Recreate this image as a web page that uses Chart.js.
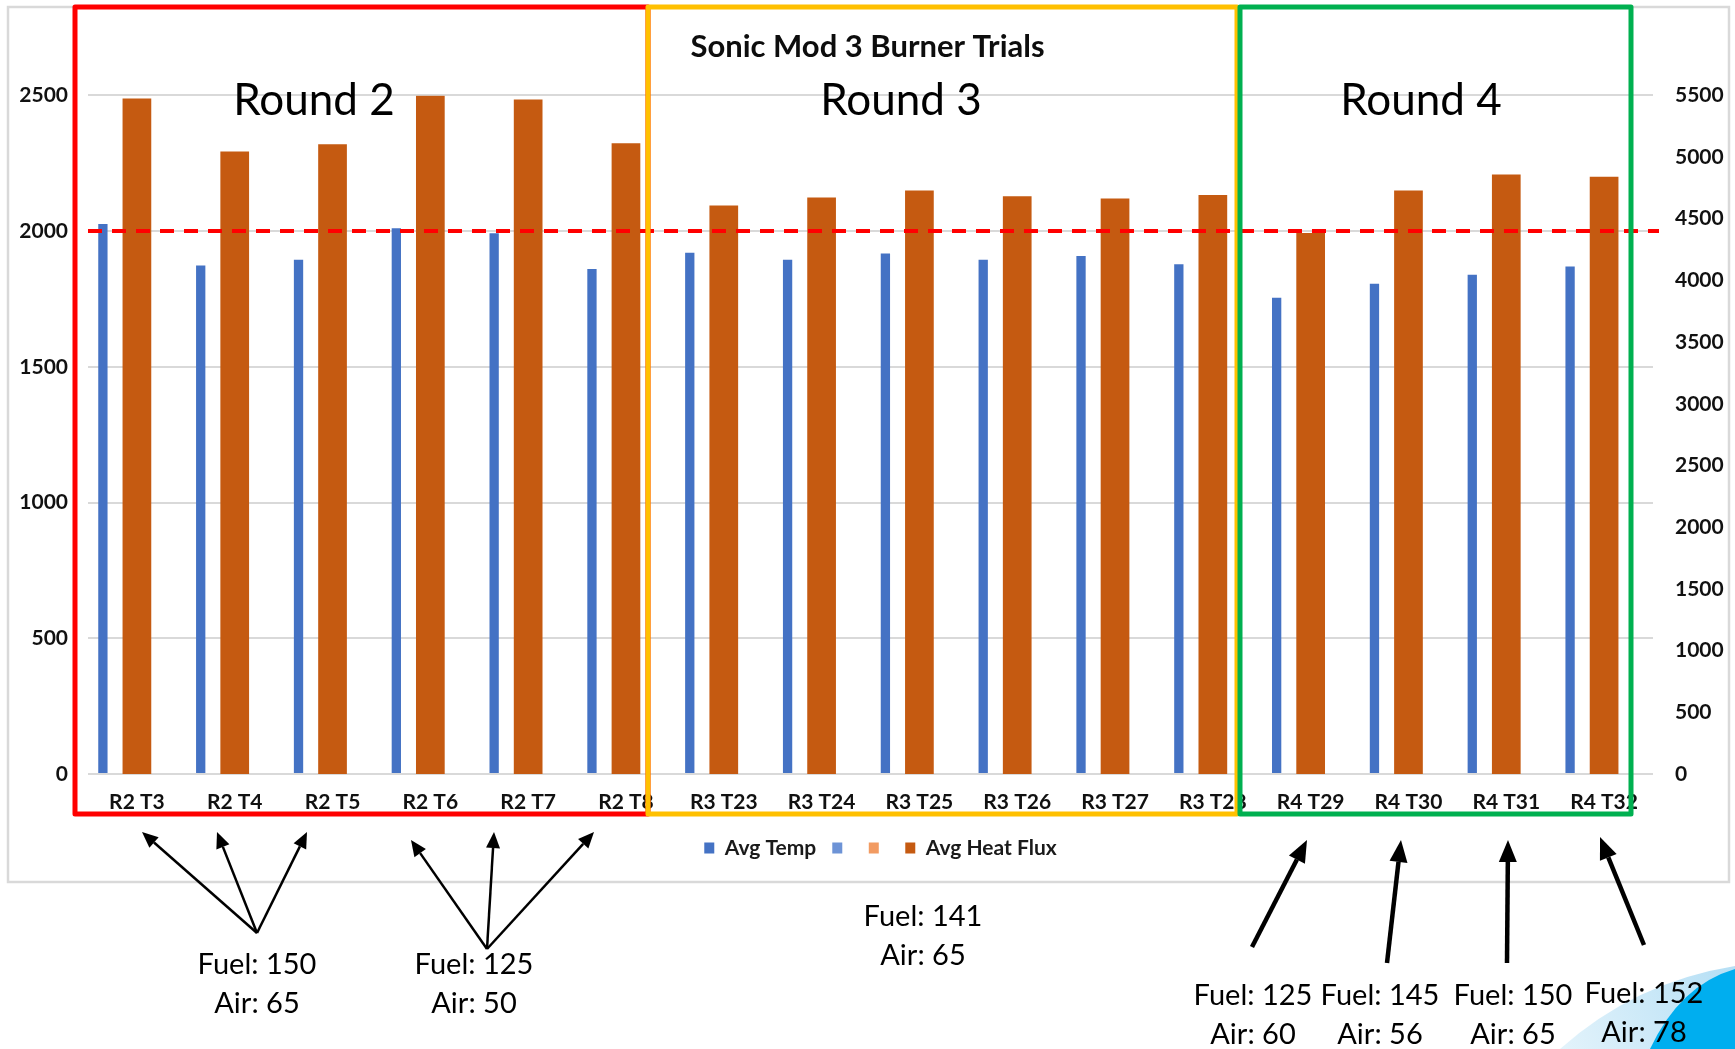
<!DOCTYPE html>
<html>
<head>
<meta charset="utf-8">
<title>Sonic Mod 3 Burner Trials</title>
<script src="https://cdn.jsdelivr.net/npm/chart.js@4.4.1/dist/chart.umd.min.js"></script>
<style>
  html, body { margin: 0; padding: 0; background: #ffffff; overflow: hidden; }
  #wrap { position: relative; width: 1735px; height: 1049px; }
  canvas { display: block; }
</style>
</head>
<body>
<div id="wrap"><canvas id="chart" width="1735" height="1049"></canvas></div>
<script>
// ---- data ----
const categories = ['R2 T3', 'R2 T4', 'R2 T5', 'R2 T6', 'R2 T7', 'R2 T8',
                    'R3 T23', 'R3 T24', 'R3 T25', 'R3 T26', 'R3 T27', 'R3 T28',
                    'R4 T29', 'R4 T30', 'R4 T31', 'R4 T32'];
const avgTemp     = [2026, 1873, 1894, 2010, 1992, 1860, 1920, 1894, 1917, 1894, 1908, 1878, 1754, 1806, 1839, 1869];
const avgHeatFlux = [5475, 5045, 5104, 5497, 5465, 5112, 4606, 4671, 4728, 4682, 4663, 4693, 4384, 4728, 4858, 4839];
const blankSeries = categories.map(() => null);

const tempAxis = { min: 0, max: 2500, step: 500 };
const fluxAxis = { min: 0, max: 5500, step: 500 };
const TARGET_TEMP = 2000;

const roundNames = ['Round 2', 'Round 3', 'Round 4'];
const settingNotes = [
  ['Fuel: 150', 'Air: 65'],
  ['Fuel: 125', 'Air: 50'],
  ['Fuel: 141', 'Air: 65'],
  ['Fuel: 125', 'Air: 60'],
  ['Fuel: 145', 'Air: 56'],
  ['Fuel: 150', 'Air: 65'],
  ['Fuel: 152', 'Air: 78']
];

// ---- layout of the hand-drawn callouts ----
const roundBoxes = [
  { x1: 75,   x2: 648,  color: '#FF0000', labelX: 314 },
  { x1: 648,  x2: 1237, color: '#FFC000', labelX: 901 },
  { x1: 1240, x2: 1631, color: '#00B050', labelX: 1421 }
];
const BOX_TOP = 7, BOX_BOTTOM = 814, ROUND_BASELINE = 115;
const LEGEND_SHIFT = 13;

const notePlaces = [
  { x: 257,  y: 974 },
  { x: 474,  y: 974 },
  { x: 923,  y: 926 },
  { x: 1253, y: 1005 },
  { x: 1380, y: 1005 },
  { x: 1513, y: 1005 },
  { x: 1644, y: 1003 }
];
const NOTE_LINE_GAP = 38.5;

const thinArrows = [
  [257, 933, 142, 832], [257, 933, 217, 832], [257, 933, 307, 832],
  [487, 949, 411, 840], [487, 949, 494, 832], [487, 949, 594, 832]
];
const boldArrows = [
  [1252, 947, 1307, 840], [1387, 963, 1401, 840],
  [1507, 963, 1508, 840], [1644, 945, 1600, 837]
];

function drawArrow(ctx, x0, y0, x1, y1, width, headLen, headHalf) {
  const ang = Math.atan2(y1 - y0, x1 - x0);
  const bx = x1 - Math.cos(ang) * headLen, by = y1 - Math.sin(ang) * headLen;
  ctx.lineWidth = width;
  ctx.beginPath();
  ctx.moveTo(x0, y0);
  ctx.lineTo(bx, by);
  ctx.stroke();
  ctx.beginPath();
  ctx.moveTo(x1, y1);
  ctx.lineTo(bx + Math.sin(ang) * headHalf, by - Math.cos(ang) * headHalf);
  ctx.lineTo(bx - Math.sin(ang) * headHalf, by + Math.cos(ang) * headHalf);
  ctx.closePath();
  ctx.fill();
}

const decorations = {
  id: 'decorations',
  afterLayout(chart) {
    // nudge the legend row slightly right
    if (chart.legend) {
      chart.legend.left += LEGEND_SHIFT;
      chart.legend.right += LEGEND_SHIFT;
    }
  },
  beforeDraw(chart) {
    const ctx = chart.ctx;
    ctx.save();
    ctx.fillStyle = '#ffffff';
    ctx.fillRect(0, 0, chart.width, chart.height);
    // chart frame
    ctx.strokeStyle = '#D9D9D9';
    ctx.lineWidth = 2.5;
    ctx.strokeRect(8, 7, 1721, 875);
    ctx.restore();
  },
  afterDatasetsDraw(chart) {
    // target temperature reference line
    const ctx = chart.ctx, area = chart.chartArea;
    const y = chart.scales.y.getPixelForValue(TARGET_TEMP);
    ctx.save();
    ctx.strokeStyle = '#FF0000';
    ctx.lineWidth = 4;
    ctx.setLineDash([14, 10]);
    ctx.beginPath();
    ctx.moveTo(area.left, y);
    ctx.lineTo(area.right + 6, y);
    ctx.stroke();
    ctx.restore();
  },
  afterDraw(chart) {
    const ctx = chart.ctx;
    ctx.save();
    // round boxes
    ctx.lineWidth = 5;
    ctx.lineJoin = 'round';
    roundBoxes.forEach(b => {
      ctx.strokeStyle = b.color;
      ctx.strokeRect(b.x1, BOX_TOP, b.x2 - b.x1, BOX_BOTTOM - BOX_TOP);
    });
    // round labels
    ctx.fillStyle = '#000000';
    ctx.font = '44px Lato, "Open Sans", sans-serif';
    ctx.textAlign = 'center';
    ctx.textBaseline = 'alphabetic';
    roundBoxes.forEach((b, i) => ctx.fillText(roundNames[i], b.labelX, ROUND_BASELINE));

    // corner swoosh
    const g = ctx.createLinearGradient(1560, 1049, 1735, 970);
    g.addColorStop(0, '#E3F3FB');
    g.addColorStop(1, '#B5DFF5');
    ctx.fillStyle = g;
    ctx.beginPath();
    ctx.moveTo(1560, 1049);
    ctx.quadraticCurveTo(1635, 982, 1735, 966);
    ctx.lineTo(1735, 1049);
    ctx.closePath();
    ctx.fill();
    ctx.fillStyle = '#00AEEF';
    ctx.beginPath();
    ctx.moveTo(1650, 1049);
    ctx.quadraticCurveTo(1680, 985, 1735, 969);
    ctx.lineTo(1735, 1049);
    ctx.closePath();
    ctx.fill();

    // arrows
    ctx.strokeStyle = '#000000';
    ctx.fillStyle = '#000000';
    ctx.lineCap = 'butt';
    thinArrows.forEach(a => drawArrow(ctx, a[0], a[1], a[2], a[3], 2.5, 16, 7));
    boldArrows.forEach(a => drawArrow(ctx, a[0], a[1], a[2], a[3], 4.5, 22, 9));

    // fuel / air settings
    ctx.font = '29px Lato, "Open Sans", sans-serif';
    ctx.textAlign = 'center';
    settingNotes.forEach((lines, i) => {
      const p = notePlaces[i];
      lines.forEach((t, k) => ctx.fillText(t, p.x, p.y + k * NOTE_LINE_GAP));
    });
    ctx.restore();
  }
};

const tickFont = { family: 'Lato, "Open Sans", sans-serif', size: 21, weight: 'bold' };
const plainNumber = value => String(value);

new Chart(document.getElementById('chart'), {
  type: 'bar',
  data: {
    labels: categories,
    datasets: [
      { label: 'Avg Temp', data: avgTemp, yAxisID: 'y', backgroundColor: '#4472C4',
        categoryPercentage: 1.043, barPercentage: 0.2735 },
      { label: '', data: blankSeries, yAxisID: 'y', backgroundColor: '#6D93D6',
        categoryPercentage: 1.043, barPercentage: 0.2735 },
      { label: '', data: blankSeries, yAxisID: 'y1', backgroundColor: '#F29B62',
        categoryPercentage: 1.043, barPercentage: 0.2735 },
      { label: 'Avg Heat Flux', data: avgHeatFlux, yAxisID: 'y1', backgroundColor: '#C55A11',
        grouped: false, categoryPercentage: 1, barPercentage: 0.2935 }
    ]
  },
  options: {
    responsive: false,
    animation: false,
    devicePixelRatio: 1,
    layout: { padding: { left: 0, right: 0, top: 0, bottom: 180.5 } },
    plugins: {
      title: {
        display: true,
        text: 'Sonic Mod 3 Burner Trials',
        color: '#0d0d0d',
        font: { family: 'Lato, "Open Sans", sans-serif', size: 31, weight: 'bold', lineHeight: 1.2 },
        padding: { top: 28.4, bottom: 29.7 }
      },
      legend: {
        display: true,
        position: 'bottom',
        labels: {
          color: '#1a1a1a',
          font: tickFont,
          boxWidth: 10,
          boxHeight: 11,
          padding: 16
        }
      },
      tooltip: { enabled: false }
    },
    scales: {
      x: {
        grid: { display: false },
        border: { display: false },
        ticks: { color: '#111111', font: tickFont, padding: 7.5, maxRotation: 0, autoSkip: false },
        afterFit(scale) { scale.height = 47.5; }
      },
      y: {
        position: 'left',
        min: tempAxis.min, max: tempAxis.max,
        grid: { color: '#D9D9D9', lineWidth: 2, drawTicks: false },
        border: { display: false },
        ticks: { stepSize: tempAxis.step, color: '#111111', font: tickFont, padding: 20, callback: plainNumber },
        afterFit(scale) { scale.width = 88; }
      },
      y1: {
        position: 'right',
        min: fluxAxis.min, max: fluxAxis.max,
        grid: { display: false, drawTicks: false },
        border: { display: false },
        ticks: { stepSize: fluxAxis.step, color: '#111111', font: tickFont, padding: 22, callback: plainNumber },
        afterFit(scale) { scale.width = 82; }
      }
    }
  },
  plugins: [decorations]
});
</script>
</body>
</html>
